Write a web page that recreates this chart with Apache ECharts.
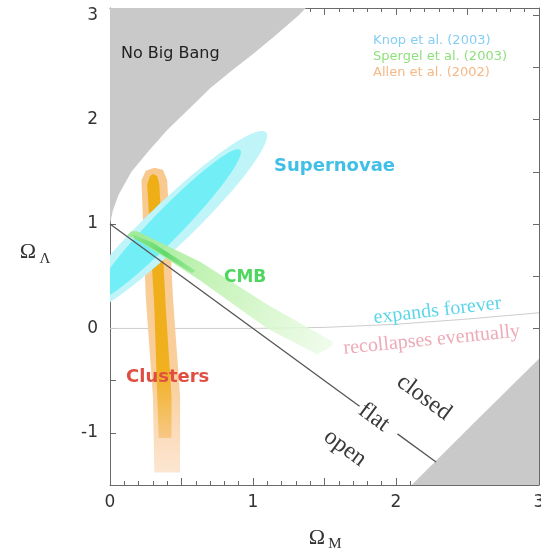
<!DOCTYPE html>
<html>
<head>
<meta charset="utf-8">
<script src="https://cdn.jsdelivr.net/npm/echarts@6/dist/echarts.min.js"></script>
<style>
  html, body { margin: 0; padding: 0; background: #fff; }
  #chart { width: 541px; height: 550px; }
</style>
</head>
<body>
<div id="chart"></div>
<script>
// Ω_M – Ω_Λ plane with supernova, CMB and galaxy-cluster constraints.

// Axis ranges and labelled ticks
const xRange = [0, 3];
const yRange = [-1.5, 3.07];
const xTickValues = [0, 1, 2, 3];
const yTickValues = [-1, 0, 1, 2, 3];

// Edge of the "No Big Bang" region (upper left)
const noBigBangEdge = [[0, 1.0], [0.02, 1.13], [0.06, 1.28], [0.15, 1.5], [0.27, 1.7], [0.4, 1.9],
  [0.55, 2.1], [0.7, 2.3], [0.85, 2.47], [1.0, 2.63], [1.15, 2.8], [1.32, 3.0], [1.37, 3.07]];
// Edge of the shaded region at lower right
const lowerRightEdge = [[2.11, -1.5], [2.55, -0.9], [3.0, -0.29]];
// Boundary between "expands forever" and "recollapses eventually"
const recollapseEdge = [[0, 0], [1, 0], [1.5, 0.01], [2, 0.04], [2.5, 0.09], [3, 0.15]];
// Flat universe, Ω_M + Ω_Λ = 1, broken where the "flat" label sits
const flatSegments = [[[0, 1], [1.745, -0.745]], [[2.01, -1.01], [2.28, -1.28]]];

// Supernova confidence ellipses: centre, major half-axis, conjugate minor half-axis
const snOuter = { center: [0.42, 1.0], major: [0.67, 0.88], minor: [0.107, -0.150] };
const snInner = { center: [0.40, 0.99], major: [0.51, 0.72], minor: [0.076, -0.098] };

// Cluster gas-fraction band (Allen et al.)
const clusterOuter = [[0.22, 1.42], [0.25, 1.51], [0.31, 1.54], [0.37, 1.52], [0.40, 1.42], [0.44, 0.3],
  [0.49, -0.65], [0.49, -1.38], [0.31, -1.38], [0.30, -0.65], [0.25, 0.3]];
const clusterCore = [[0.26, 1.38], [0.28, 1.46], [0.30, 1.48], [0.33, 1.46], [0.345, 1.38], [0.39, 0.2],
  [0.43, -0.65], [0.43, -1.05], [0.34, -1.05], [0.33, -0.65], [0.31, 0.2]];

// CMB band (Spergel et al.)
const cmbBand = [[0.12, 0.89], [0.15, 0.93], [0.19, 0.93], [0.63, 0.64], [1.10, 0.23], [1.56, -0.13],
  [1.55, -0.17], [1.45, -0.25], [1.10, 0.0], [0.63, 0.46], [0.19, 0.85]];
const cmbCore = [[0.16, 0.90], [0.30, 0.82], [0.48, 0.66], [0.60, 0.55], [0.57, 0.53], [0.42, 0.66],
  [0.28, 0.78], [0.17, 0.86]];

// Text annotations, anchored in data units
const notes = [
  { text: 'No Big Bang', at: [0.077, 2.63], align: 'left', font: '16px "DejaVu Sans"', color: '#222222' },
  { text: 'Knop et al. (2003)', at: [1.84, 2.756], align: 'left', font: '13px "DejaVu Sans"', color: '#86cef2' },
  { text: 'Spergel et al. (2003)', at: [1.84, 2.604], align: 'left', font: '13px "DejaVu Sans"', color: '#8fe07c' },
  { text: 'Allen et al. (2002)', at: [1.84, 2.453], align: 'left', font: '13px "DejaVu Sans"', color: '#f6b886' },
  { text: 'Supernovae', at: [1.147, 1.553], align: 'left', font: 'bold 18px "DejaVu Sans"', color: '#42bfe6' },
  { text: 'CMB', at: [0.797, 0.49], align: 'left', font: 'bold 17px "DejaVu Sans"', color: '#4fd65e' },
  { text: 'Clusters', at: [0.112, -0.464], align: 'left', font: 'bold 18px "DejaVu Sans"', color: '#de4f42' },
  { text: 'expands forever', at: [2.29, 0.17], align: 'center', rot: 6.6, font: '20px "Liberation Serif"', color: '#5dd6ea' },
  { text: 'recollapses eventually', at: [2.25, -0.11], align: 'center', rot: 5.6, font: '20px "Liberation Serif"', color: '#eeaab8' },
  { text: 'closed', at: [2.196, -0.663], align: 'center', rot: -36.4, font: '24px "Liberation Serif"', color: '#3a3a3a' },
  { text: 'flat', at: [1.846, -0.852], align: 'center', rot: -36.4, font: '24px "Liberation Serif"', color: '#3a3a3a' },
  { text: 'open', at: [1.643, -1.146], align: 'center', rot: -36.4, font: '24px "Liberation Serif"', color: '#3a3a3a' }
];

const axisColor = '#6a6a6a';
const chart = echarts.init(document.getElementById('chart'), null, { renderer: 'canvas' });

function vGradient(api, yTop, yBottom, stops) {
  const a = api.coord([0, yTop]);
  const b = api.coord([0, yBottom]);
  return new echarts.graphic.LinearGradient(0, a[1], 0, b[1], stops, true);
}
function lineGradient(api, p0, p1, stops) {
  const a = api.coord(p0);
  const b = api.coord(p1);
  return new echarts.graphic.LinearGradient(a[0], a[1], b[0], b[1], stops, true);
}

function polygonSeries(name, points, fill, z) {
  return {
    name: name,
    type: 'custom',
    coordinateSystem: 'cartesian2d',
    clip: true,
    silent: true,
    z: z,
    data: [points[0]],
    renderItem: function (params, api) {
      return {
        type: 'polygon',
        shape: { points: points.map(p => api.coord(p)) },
        style: { fill: typeof fill === 'function' ? fill(api) : fill }
      };
    }
  };
}

function ellipseSeries(name, e, fill, z) {
  return {
    name: name,
    type: 'custom',
    coordinateSystem: 'cartesian2d',
    clip: true,
    silent: true,
    z: z,
    data: [e.center],
    renderItem: function (params, api) {
      const pts = [];
      const n = 120;
      for (let i = 0; i < n; i++) {
        const t = 2 * Math.PI * i / n;
        const c = Math.cos(t), s = Math.sin(t);
        pts.push(api.coord([
          e.center[0] + e.major[0] * c + e.minor[0] * s,
          e.center[1] + e.major[1] * c + e.minor[1] * s
        ]));
      }
      return { type: 'polygon', shape: { points: pts }, style: { fill: fill } };
    }
  };
}

const noBigBangRegion = [[0, yRange[1]]].concat(noBigBangEdge);
const lowerRightRegion = lowerRightEdge.concat([[3, -1.5]]);

const series = [
  polygonSeries('No Big Bang', noBigBangRegion, '#c9c9c9', 1),
  polygonSeries('lower right', lowerRightRegion, '#c9c9c9', 1),
  {
    name: 'recollapse', type: 'line', data: recollapseEdge, symbol: 'none', z: 2, silent: true,
    lineStyle: { color: '#cdcdcd', width: 1 }
  },
  polygonSeries('clusters outer', clusterOuter, api => vGradient(api, 1.54, -1.38, [
    { offset: 0, color: '#f8c98e' }, { offset: 0.7, color: '#f9cf9c' }, { offset: 1, color: '#fce6d2' }
  ]), 3),
  polygonSeries('clusters core', clusterCore, api => vGradient(api, 1.48, -1.05, [
    { offset: 0, color: '#eeae14' }, { offset: 0.75, color: '#f0b020' }, { offset: 1, color: '#f7c886' }
  ]), 4),
  ellipseSeries('supernovae outer', snOuter, '#bff5f9', 5),
  ellipseSeries('supernovae inner', snInner, '#72eef6', 6),
  polygonSeries('CMB band', cmbBand, api => lineGradient(api, [0.15, 0.9], [1.55, -0.18], [
    { offset: 0, color: 'rgba(160,234,148,0.95)' }, { offset: 0.45, color: 'rgba(196,243,182,0.9)' },
    { offset: 1, color: 'rgba(236,251,231,0.8)' }
  ]), 7),
  polygonSeries('CMB core', cmbCore, api => lineGradient(api, [0.16, 0.88], [0.6, 0.54], [
    { offset: 0, color: 'rgba(120,224,122,0.6)' }, { offset: 0.5, color: 'rgba(92,216,104,0.95)' },
    { offset: 1, color: 'rgba(120,224,122,0.5)' }
  ]), 8)
];

flatSegments.forEach((seg, i) => {
  series.push({
    name: 'flat ' + i, type: 'line', data: seg, symbol: 'none', z: 9, silent: true,
    lineStyle: { color: '#555555', width: 1.3 }
  });
});

series.push({
  name: 'annotations',
  type: 'custom',
  coordinateSystem: 'cartesian2d',
  clip: false,
  silent: true,
  z: 20,
  data: notes.map(n => n.at),
  renderItem: function (params, api) {
    const n = notes[params.dataIndex];
    const p = api.coord(n.at);
    return {
      type: 'text',
      x: p[0], y: p[1],
      rotation: (n.rot || 0) * Math.PI / 180,
      style: {
        text: n.text, font: n.font, fill: n.color,
        align: n.align, verticalAlign: 'middle'
      }
    };
  }
});

function xAxisDef(position, showLabels) {
  return {
    type: 'value', min: xRange[0], max: xRange[1], interval: 0.5, position: position,
    axisLine: { show: true, onZero: false, lineStyle: { color: axisColor, width: 1 } },
    axisTick: { show: true, inside: true, length: 7, lineStyle: { color: axisColor } },
    minorTick: { show: true, splitNumber: 5, length: 4, lineStyle: { color: axisColor } },
    splitLine: { show: false }, minorSplitLine: { show: false },
    axisLabel: {
      show: showLabels, margin: 9, fontSize: 17, fontFamily: 'DejaVu Sans', color: '#333',
      formatter: v => (xTickValues.indexOf(v) >= 0 ? String(v) : '')
    }
  };
}
function yAxisDef(position, showLabels) {
  return {
    type: 'value', min: yRange[0], max: yRange[1], interval: 0.5, position: position,
    axisLine: { show: true, onZero: false, lineStyle: { color: axisColor, width: 1 } },
    axisTick: { show: true, inside: true, length: 6, lineStyle: { color: axisColor } },
    splitLine: { show: false },
    axisLabel: {
      show: showLabels, margin: 12, fontSize: 17, fontFamily: 'DejaVu Sans', color: '#333',
      formatter: v => (yTickValues.indexOf(v) >= 0 ? String(v) : '')
    }
  };
}

chart.setOption({
  animation: false,
  backgroundColor: '#ffffff',
  grid: { left: 110, right: 2, top: 8, bottom: 65, containLabel: false, outerBoundsMode: 'none' },
  xAxis: [xAxisDef('bottom', true), xAxisDef('top', false)],
  yAxis: [yAxisDef('left', true), yAxisDef('right', false)],
  series: series,
  graphic: [
    { type: 'text', x: 28, y: 252, style: { text: 'Ω', font: '22px "Liberation Serif"', fill: '#333', align: 'center', verticalAlign: 'middle' } },
    { type: 'text', x: 45, y: 259, style: { text: 'Λ', font: '15px "Liberation Serif"', fill: '#333', align: 'center', verticalAlign: 'middle' } },
    { type: 'text', x: 317, y: 538, style: { text: 'Ω', font: '22px "Liberation Serif"', fill: '#333', align: 'center', verticalAlign: 'middle' } },
    { type: 'text', x: 335, y: 544, style: { text: 'M', font: '15px "Liberation Serif"', fill: '#333', align: 'center', verticalAlign: 'middle' } }
  ]
});
</script>
</body>
</html>
